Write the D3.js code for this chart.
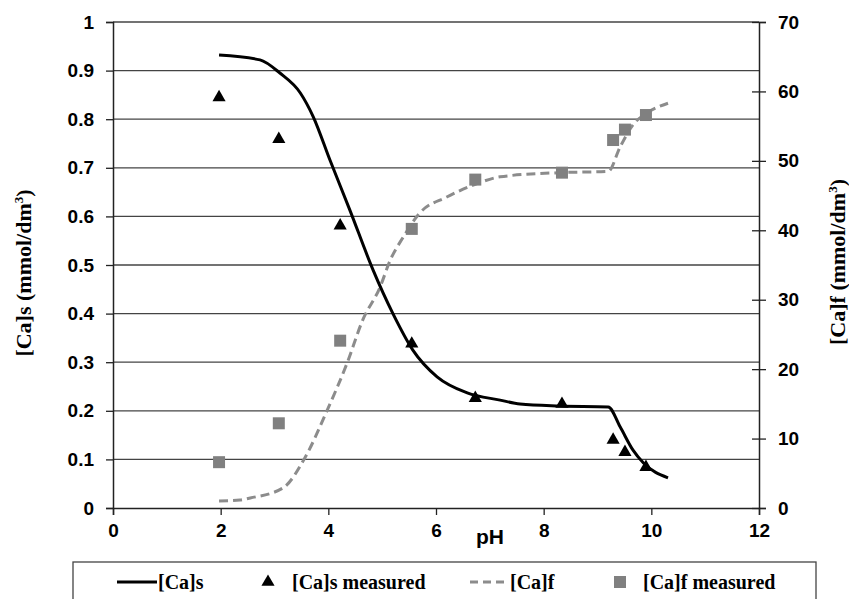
<!DOCTYPE html>
<html>
<head>
<meta charset="utf-8">
<script src="https://cdn.jsdelivr.net/npm/d3@7"></script>
<style>
  body { margin: 0; background: #fff; }
  svg text { fill: #000; }
  .tick-lbl { font-family: "Liberation Sans", Arial, sans-serif; font-weight: bold; font-size: 19px; }
  .ser { font-family: "Liberation Serif", "Times New Roman", serif; font-weight: bold; font-size: 20px; }
  .ttl { font-family: "Liberation Serif", "Times New Roman", serif; font-weight: bold; font-size: 22px; }
</style>
</head>
<body>
<svg id="chart" width="849" height="599"></svg>
<script>
// measured points
var pHMeasured = [1.97, 3.08, 4.22, 5.55, 6.73, 8.34, 9.29, 9.51, 9.90];
var caSMeasured = [0.845, 0.759, 0.581, 0.338, 0.226, 0.214, 0.140, 0.115, 0.084];
var caFMeasured = [6.6, 12.2, 24.1, 40.2, 47.3, 48.3, 53.0, 54.5, 56.6];

// model curve [Ca]s
var pHCurveS = [1.97, 2.73, 3.10, 3.48, 3.72, 4.03, 4.40, 4.83, 5.20, 5.57, 6.02, 6.58, 7.19, 7.56, 8.30, 9.20, 9.42, 9.66, 9.85, 10.31];
var caSCurve = [0.932, 0.922, 0.895, 0.854, 0.805, 0.716, 0.613, 0.49, 0.40, 0.325, 0.27, 0.237, 0.222, 0.214, 0.210, 0.208, 0.167, 0.119, 0.093, 0.062];

// model curve [Ca]f
var pHCurveF = [1.97, 2.36, 2.55, 3.16, 3.57, 3.98, 4.35, 4.64, 4.96, 5.15, 5.39, 5.70, 6.20, 6.69, 7.19, 8.30, 9.20, 9.42, 9.66, 9.92, 10.31];
var caFCurve = [1.0, 1.15, 1.44, 2.9, 7.3, 14.1, 20.9, 27.1, 31.8, 35.7, 39.0, 42.5, 44.8, 46.5, 47.7, 48.3, 48.5, 52.0, 55.2, 56.9, 58.3];

var xTicks = [0, 2, 4, 6, 8, 10, 12];
var leftTicks = [0, 0.1, 0.2, 0.3, 0.4, 0.5, 0.6, 0.7, 0.8, 0.9, 1];
var leftTickLabels = ["0", "0.1", "0.2", "0.3", "0.4", "0.5", "0.6", "0.7", "0.8", "0.9", "1"];
var rightTicks = [0, 10, 20, 30, 40, 50, 60, 70];

var legendNames = ["[Ca]s", "[Ca]s measured", "[Ca]f", "[Ca]f measured"];

var svg = d3.select("#chart");
var x = d3.scaleLinear().domain([0, 12]).range([113, 759]);
var yL = d3.scaleLinear().domain([0, 1]).range([508, 22]);
var yR = d3.scaleLinear().domain([0, 70]).range([508, 22]);

// gridlines
svg.append("g").selectAll("line")
  .data(leftTicks.filter(function(d){ return d > 0; }))
  .enter().append("line")
  .attr("x1", x(0)).attr("x2", x(12))
  .attr("y1", function(d){ return yL(d); }).attr("y2", function(d){ return yL(d); })
  .attr("stroke", "#444").attr("stroke-width", 1.3);

// left axis
var gl = svg.append("g").attr("transform", "translate(" + x(0) + ",0)")
  .call(d3.axisLeft(yL).tickValues(leftTicks).tickSize(7).tickPadding(12)
    .tickFormat(function(d, i){ return leftTickLabels[i]; }));
// right axis
var gr = svg.append("g").attr("transform", "translate(" + x(12) + ",0)")
  .call(d3.axisRight(yR).tickValues(rightTicks).tickSize(7).tickPadding(12));
gr.selectAll(".tick line").attr("x1", -7);
// bottom axis
var gb = svg.append("g").attr("transform", "translate(0," + yL(0) + ")")
  .call(d3.axisBottom(x).tickValues(xTicks).tickSize(7).tickPadding(9));

[gl, gr, gb].forEach(function(g){
  g.select(".domain").attr("stroke", "#222").attr("stroke-width", 1.5);
  g.selectAll(".tick line").attr("stroke", "#222").attr("stroke-width", 1.3);
  g.selectAll("text").attr("class", "tick-lbl").attr("fill", "#000");
});

// curves
var lineS = d3.line().curve(d3.curveMonotoneX)
  .x(function(d){ return x(d[0]); }).y(function(d){ return yL(d[1]); });
var lineF = d3.line().curve(d3.curveMonotoneX)
  .x(function(d){ return x(d[0]); }).y(function(d){ return yR(d[1]); });

svg.append("path")
  .attr("d", lineF(d3.zip(pHCurveF, caFCurve)))
  .attr("fill", "none").attr("stroke", "#8c8c8c").attr("stroke-width", 3)
  .attr("stroke-dasharray", "9,5");
svg.append("path")
  .attr("d", lineS(d3.zip(pHCurveS, caSCurve)))
  .attr("fill", "none").attr("stroke", "#000").attr("stroke-width", 3);

// markers
var tri = d3.symbol().type(d3.symbolTriangle).size(75);
svg.append("g").selectAll("path")
  .data(d3.zip(pHMeasured, caSMeasured))
  .enter().append("path")
  .attr("d", tri)
  .attr("transform", function(d){ return "translate(" + x(d[0]) + "," + yL(d[1]) + ")"; })
  .attr("fill", "#000");

svg.append("g").selectAll("rect")
  .data(d3.zip(pHMeasured, caFMeasured))
  .enter().append("rect")
  .attr("x", function(d){ return x(d[0]) - 6; })
  .attr("y", function(d){ return yR(d[1]) - 6; })
  .attr("width", 12).attr("height", 12)
  .attr("fill", "#808080");

// axis titles
svg.append("text").attr("class", "tick-lbl").attr("font-size", 21).style("font-size", "21px")
  .attr("x", 490).attr("y", 544).attr("text-anchor", "middle").text("pH");

function axisTitle(cx, cy, base) {
  var t = svg.append("text").attr("class", "ttl")
    .attr("transform", "translate(" + cx + "," + cy + ") rotate(-90)")
    .attr("text-anchor", "middle");
  t.append("tspan").text(base + " (mmol/dm");
  t.append("tspan").attr("font-size", 13).attr("dy", -8).text("3");
  t.append("tspan").attr("dy", 8).text(")");
}
axisTitle(31, 273, "[Ca]s");
axisTitle(845, 262, "[Ca]f");

// legend
svg.append("rect").attr("x", 73).attr("y", 562).attr("width", 743).attr("height", 60)
  .attr("fill", "#fff").attr("stroke", "#444").attr("stroke-width", 1.3);

var lg = svg.append("g");
lg.append("line").attr("x1", 117).attr("x2", 157).attr("y1", 582).attr("y2", 582)
  .attr("stroke", "#000").attr("stroke-width", 3);
lg.append("path").attr("d", tri).attr("transform", "translate(268,582)").attr("fill", "#000");
lg.append("line").attr("x1", 470).attr("x2", 505).attr("y1", 582).attr("y2", 582)
  .attr("stroke", "#8c8c8c").attr("stroke-width", 3).attr("stroke-dasharray", "8,5");
lg.append("rect").attr("x", 614).attr("y", 576).attr("width", 12).attr("height", 12).attr("fill", "#808080");

var legX = [158, 292, 510, 643];
lg.selectAll("text.ser").data(legendNames).enter().append("text")
  .attr("class", "ser")
  .attr("x", function(d, i){ return legX[i]; })
  .attr("y", 589)
  .text(function(d){ return d; });
</script>
</body>
</html>
